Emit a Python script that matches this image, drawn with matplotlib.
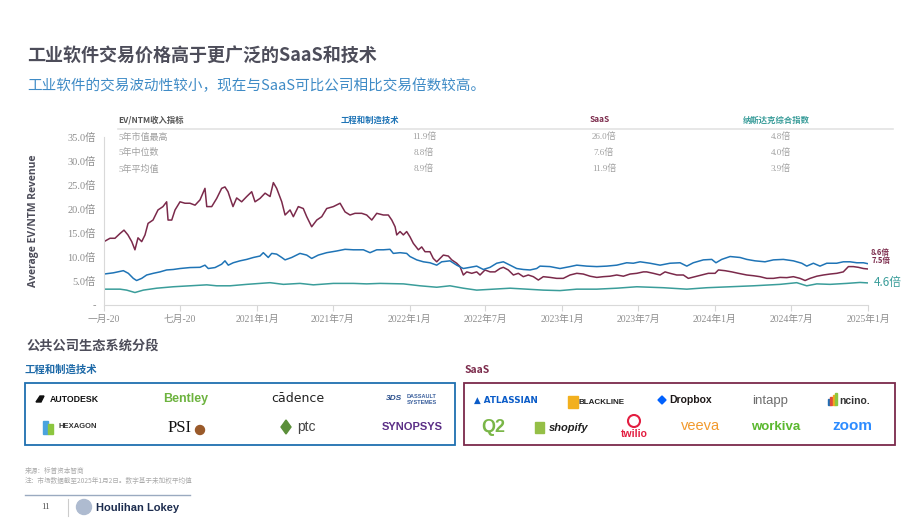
import numpy as np
import pandas as pd
import matplotlib
matplotlib.use('Agg')
import matplotlib.pyplot as plt
from matplotlib.patches import Rectangle, Ellipse, Polygon
from matplotlib.lines import Line2D

plt.rcParams['font.family'] = ['Noto Sans CJK SC', 'DejaVu Sans']
SERIF = ['Liberation Serif', 'Noto Sans CJK SC']

# months since Jan 2020 (x EV/NTM revenue)
saas_t = [0, 0.47, 0.86, 1.26, 1.57, 1.88, 2.18, 2.43, 2.67, 2.96,
          3.22, 3.46, 3.85, 4.24, 4.63, 4.92, 5.03, 5.32, 5.58, 5.97,
          6.36, 6.75, 7.15, 7.54, 7.93, 8.07, 8.46, 8.85, 9.24, 9.50,
          9.74, 10.13, 10.42, 10.81, 11.21, 11.60, 11.86, 12.25, 12.65, 13.04,
          13.30, 13.56, 13.96, 14.22, 14.61, 14.87, 15.26, 15.65, 15.92, 16.31,
          16.71, 17.10, 17.49, 18.01, 18.54, 18.93, 19.32, 19.71, 20.24, 20.63,
          21.03, 21.42, 21.94, 22.33, 22.60, 22.86, 22.99, 23.25, 23.51, 23.77,
          24.03, 24.29, 24.69, 24.95, 25.21, 25.60, 25.86, 26.13, 26.39, 26.65,
          27.04, 27.31, 27.70, 27.96, 28.22, 28.49, 28.88, 29.27, 29.53, 29.92,
          30.32, 30.71, 31.10, 31.36, 31.75, 32.15, 32.54, 32.93, 33.32, 33.72,
          34.11, 34.50, 35.03, 35.55, 36.07, 36.60, 37.13, 37.64, 38.17, 38.70,
          39.21, 39.74, 40.27, 40.79, 41.31, 41.84, 42.36, 42.62, 43.14, 43.67,
          44.06, 44.45, 44.98, 45.50, 45.89, 46.42, 46.94, 47.46, 47.99, 48.25,
          48.77, 49.30, 49.82, 50.48, 51.00, 51.52, 52.05, 52.57, 53.09, 53.62,
          54.14, 54.66, 55.06, 55.45, 55.98, 56.49, 57.02, 57.55, 58.06, 58.46,
          58.85, 59.24, 59.64, 60.0]
saas_v = [13.2, 13.9, 13.9, 14.9, 15.6, 14.6, 13.2, 11.5, 14.0, 13.2,
          14.6, 17.0, 17.7, 19.8, 20.5, 21.5, 17.7, 17.7, 19.8, 21.5,
          21.2, 21.2, 20.8, 21.9, 24.3, 20.5, 20.5, 22.2, 24.3, 24.6,
          23.6, 20.5, 22.3, 21.5, 22.6, 23.6, 21.5, 22.2, 23.3, 22.6,
          25.5, 24.3, 21.5, 18.75, 19.8, 18.4, 20.5, 20.1, 18.4, 16.3,
          17.7, 18.4, 20.1, 20.5, 21.2, 19.4, 18.75, 19.1, 19.1, 18.75,
          17.7, 19.1, 18.75, 18.75, 17.7, 16.3, 14.6, 15.3, 14.6, 15.3,
          14.2, 12.85, 11.5, 12.1, 11.1, 11.1, 9.7, 9.0, 9.7, 10.4,
          10.2, 9.4, 8.7, 8.0, 6.25, 6.9, 6.6, 6.9, 6.25, 7.3,
          6.9, 6.9, 7.6, 7.85, 7.3, 6.25, 6.6, 5.9, 6.25, 5.9,
          5.2, 5.9, 5.75, 5.55, 5.55, 6.25, 6.6, 6.45, 6.0, 5.75,
          5.9, 6.0, 6.25, 6.0, 6.45, 6.6, 6.9, 6.9, 6.6, 6.25,
          6.9, 6.6, 6.25, 6.25, 5.55, 5.9, 6.25, 6.6, 6.6, 7.3,
          7.15, 6.9, 6.6, 6.25, 6.1, 5.9, 5.55, 5.55, 5.75, 5.7,
          5.9, 5.55, 5.1, 5.55, 6.0, 6.25, 6.45, 6.6, 6.9, 8.0,
          8.0, 7.85, 7.6, 7.5]

eng_t = [0, 0.73, 1.52, 1.91, 2.30, 2.56, 2.96, 3.35, 3.87, 4.40,
         4.92, 5.44, 5.97, 6.75, 7.54, 7.93, 8.19, 8.72, 9.24, 9.50,
         9.76, 10.15, 10.68, 11.21, 11.73, 12.25, 12.51, 12.90, 13.17, 13.56,
         13.96, 14.22, 14.74, 15.39, 15.92, 16.31, 16.83, 17.49, 18.27, 18.93,
         19.58, 20.37, 20.89, 21.42, 21.94, 22.46, 22.72, 23.25, 23.77, 24.03,
         24.56, 25.08, 25.60, 26.13, 26.52, 27.17, 27.70, 28.22, 28.75, 29.27,
         29.79, 30.32, 30.84, 31.36, 31.89, 32.41, 32.93, 33.46, 33.98, 34.24,
         35.03, 35.81, 36.60, 37.13, 37.91, 38.70, 39.48, 40.27, 41.05, 41.57,
         42.10, 42.88, 43.67, 44.45, 45.24, 45.77, 46.28, 47.07, 47.73, 48.06,
         48.51, 49.17, 49.95, 50.48, 51.13, 51.91, 52.57, 53.35, 54.14, 54.80,
         55.19, 55.71, 56.23, 56.76, 57.54, 58.06, 58.59, 59.12, 59.64, 60.0]
eng_v = [6.45, 6.7, 7.15, 6.6, 5.55, 5.1, 5.55, 6.25, 6.6, 6.9,
         7.3, 7.4, 7.6, 7.8, 7.85, 8.3, 7.6, 7.8, 8.5, 9.2,
         8.3, 8.8, 9.2, 9.5, 9.9, 10.2, 10.9, 9.9, 10.75, 10.6,
         9.9, 9.4, 9.9, 10.75, 10.4, 9.7, 10.4, 10.9, 11.25, 11.6,
         11.5, 11.5, 10.9, 11.5, 11.5, 11.6, 10.75, 10.9, 10.75, 10.1,
         9.4, 9.0, 8.8, 8.3, 9.0, 9.2, 8.3, 7.6, 7.85, 8.1,
         7.4, 7.85, 8.7, 9.0, 8.3, 7.6, 7.4, 7.3, 7.6, 8.1,
         8.0, 7.6, 8.0, 8.3, 8.1, 8.0, 8.1, 8.3, 8.8, 8.7,
         9.0, 8.7, 8.3, 8.7, 8.8, 8.1, 8.8, 9.4, 9.5, 8.8,
         9.5, 10.1, 9.9, 9.5, 9.2, 9.0, 9.4, 9.5, 9.2, 8.7,
         8.1, 8.7, 8.1, 8.7, 8.7, 9.0, 9.0, 8.8, 8.8, 8.6]

nasdaq_t = [0, 1.26, 1.78, 2.43, 3.09, 4.14, 5.44, 6.75, 8.07, 8.85,
            9.90, 11.21, 13.04, 14.09, 15.39, 16.44, 18.01, 19.58, 20.63, 21.68,
            23.51, 24.82, 26.13, 27.17, 28.22, 29.27, 30.58, 31.89, 33.20, 34.50,
            35.81, 37.13, 38.70, 40.27, 41.84, 43.93, 45.77, 47.34, 49.17, 51.00,
            53.09, 54.40, 55.19, 55.98, 57.02, 58.33, 59.37, 60.0]
nasdaq_v = [3.3, 3.3, 3.1, 2.6, 3.1, 3.5, 3.8, 4.0, 4.2, 4.0,
            4.0, 4.3, 4.65, 4.3, 4.5, 4.2, 4.5, 4.5, 4.4, 4.5,
            4.4, 4.0, 3.7, 4.0, 3.5, 3.1, 3.3, 3.5, 3.3, 3.1,
            3.0, 3.3, 3.3, 3.5, 3.8, 3.6, 3.3, 3.6, 3.8, 4.0,
            4.3, 4.65, 4.0, 4.4, 4.3, 4.5, 4.7, 4.6]

end_labels = ['8.6倍', '7.5倍', '4.6倍']

table_cols = ['工程和制造技术', 'SaaS', '纳斯达克综合指数']
table_rows = ['5年市值最高', '5年中位数', '5年平均值']
table_vals = [['11.9倍', '26.0倍', '4.8倍'],
              ['8.8倍', '7.6倍', '4.0倍'],
              ['8.9倍', '11.9倍', '3.9倍']]

y_ticks = [0, 5, 10, 15, 20, 25, 30, 35]
y_labels = ['-', '5.0倍', '10.0倍', '15.0倍', '20.0倍', '25.0倍', '30.0倍', '35.0倍']
x_tick_dates = pd.date_range('2020-01-01', '2025-01-01', freq='6MS')
x_labels = ['一月-20', '七月-20', '2021年1月', '2021年7月', '2022年1月', '2022年7月',
            '2023年1月', '2023年7月', '2024年1月', '2024年7月', '2025年1月']

MAROON = '#7b2a4b'
BLUE = '#1f74b6'
TEAL = '#3a9d9a'
GREY = '#8e8e8e'

start = pd.Timestamp('2020-01-01')
end = pd.Timestamp('2025-01-01')


def to_dates(months):
    days = np.array(months) * (end - start).days / 60.0
    return start + pd.to_timedelta(days, unit='D')


W, H = 920, 518


def fx(x):
    return x / W


def fy(y):
    return 1 - y / H


fig = plt.figure(figsize=(9.2, 5.18), dpi=100)
fig.patch.set_facecolor('white')

# titles
fig.text(fx(27), fy(56), '工业软件交易价格高于更广泛的SaaS和技术', fontsize=13,
         fontweight='bold', color='#4d4d5a', va='center')
fig.text(fx(27), fy(86), '工业软件的交易波动性较小，现在与SaaS可比公司相比交易倍数较高。',
         fontsize=10.5, color='#3f8bc6', va='center')

# chart
ax = fig.add_axes([fx(104), fy(305), fx(868) - fx(104), (305 - 137) / H])
ax.plot(to_dates(saas_t), saas_v, color=MAROON, lw=1.1)
ax.plot(to_dates(eng_t), eng_v, color=BLUE, lw=1.1)
ax.plot(to_dates(nasdaq_t), nasdaq_v, color=TEAL, lw=1.1)

ax.set_xlim(start, end)
ax.set_ylim(0, 35)
ax.set_yticks(y_ticks)
ax.set_yticklabels(y_labels, fontsize=7.5, color=GREY, family=SERIF)
ax.set_xticks(x_tick_dates)
ax.set_xticklabels(x_labels, fontsize=7, color=GREY, family=SERIF)
ax.tick_params(axis='y', length=0, pad=6)
ax.tick_params(axis='x', length=4, color='#d6d6d6', pad=3)
for s in ['top', 'right']:
    ax.spines[s].set_visible(False)
for s in ['left', 'bottom']:
    ax.spines[s].set_color('#d9d9d9')
    ax.spines[s].set_linewidth(0.8)
ax.set_ylabel('Average EV/NTM Revenue', fontsize=7.5, fontweight='bold',
              color='#4d4d5a', family=['Open Sans', 'DejaVu Sans'], labelpad=20)

ax.text(end + pd.Timedelta(days=6), 11.0, end_labels[0], fontsize=5.5, fontweight='bold',
        color=MAROON, va='center', clip_on=False)
ax.text(end + pd.Timedelta(days=8), 9.3, end_labels[1], fontsize=5.5, fontweight='bold',
        color=MAROON, va='center', clip_on=False)
ax.text(end + pd.Timedelta(days=14), 4.75, end_labels[2], fontsize=8.5,
        color=TEAL, va='center', clip_on=False)

# stats table
fig.text(fx(118), fy(120), 'EV/NTM收入指标', fontsize=6, fontweight='bold', color='#555555',
         va='center')
head_x = [370, 600, 776]
val_x = [424, 604, 781]
head_colors = [BLUE, MAROON, TEAL]
for c in range(3):
    fig.text(fx(head_x[c]), fy(120), table_cols[c], fontsize=6, fontweight='bold',
             color=head_colors[c], ha='center', va='center')
fig.add_artist(Line2D([fx(118), fx(893)], [fy(129), fy(129)], color='#e3e3e3', lw=1.2))
row_y = [137, 153, 169]
for r in range(3):
    fig.text(fx(118), fy(row_y[r]), table_rows[r], fontsize=6.5, color='#a0a0a0',
             va='center', family=SERIF)
    for c in range(3):
        fig.text(fx(val_x[c]), fy(row_y[r]), table_vals[r][c], fontsize=6.5, color='#a0a0a0',
                 ha='center', va='center', family=SERIF)

# ecosystem section
fig.text(fx(27), fy(347), '公共公司生态系统分段', fontsize=9.5, fontweight='bold',
         color='#4d4d5a', va='center')
fig.text(fx(25), fy(370), '工程和制造技术', fontsize=7.5, fontweight='bold',
         color='#1e6aa8', va='center')
fig.text(fx(465), fy(370), 'SaaS', fontsize=7.5, fontweight='bold', color=MAROON, va='center')
fig.add_artist(Rectangle((fx(25), fy(445)), fx(455) - fx(25), (445 - 383) / H,
                         fill=False, edgecolor='#1f6fb0', lw=1.3, transform=fig.transFigure))
fig.add_artist(Rectangle((fx(464), fy(445)), fx(895) - fx(464), (445 - 383) / H,
                         fill=False, edgecolor=MAROON, lw=1.3, transform=fig.transFigure))


def logo(x, y, text, color, size=8, weight='bold', family=None, **kw):
    fam = family if family else ['Liberation Sans', 'DejaVu Sans']
    fig.text(fx(x), fy(y), text, fontsize=size, fontweight=weight, color=color,
             ha='center', va='center', family=fam, **kw)


def box(x0, y0, w, h, color):
    fig.add_artist(Rectangle((fx(x0), fy(y0 + h)), w / W, h / H, color=color,
                             transform=fig.transFigure))


# engineering logos
fig.add_artist(Polygon([[fx(36), fy(402)], [fx(40), fy(396)], [fx(44), fy(396)],
                        [fx(41), fy(402)]], closed=True, color='#111111',
                       transform=fig.transFigure))
logo(74, 399, 'AUTODESK', '#111111', size=6.3)
logo(186, 399, 'Bentley', '#6db33f', size=9)
logo(298, 399, 'cādence', '#222222', size=9, weight='normal', family=['DejaVu Sans'])
logo(394, 399, '3DS', '#2a4f8c', size=6, style='italic')
logo(422, 396, 'DASSAULT', '#3a5f9c', size=4)
logo(422, 402, 'SYSTEMES', '#3a5f9c', size=4)
box(43, 421, 5, 13, '#4aa3df')
box(48, 424, 5, 10, '#8cc63f')
logo(78, 427, 'HEXAGON', '#333333', size=5.5)
logo(180, 428, 'PSI', '#111111', size=12, weight='normal', family=['Liberation Serif'])
fig.add_artist(Ellipse((fx(200), fy(430)), 9 / W, 9 / H, color='#9a5a2a',
                       transform=fig.transFigure))
fig.add_artist(Polygon([[fx(281), fy(427)], [fx(286), fy(420)], [fx(291), fy(427)],
                        [fx(286), fy(434)]], closed=True, color='#5b8f3a',
                       transform=fig.transFigure))
logo(306, 427, 'ptc', '#444444', size=10, weight='normal')
logo(412, 427, 'SYNOPSYS', '#5b2e86', size=8)

# SaaS logos
logo(506, 400, '▲ ATLASSIAN', '#0b5cc8', size=6.3, family=['DejaVu Sans'])
box(568, 396, 10, 12, '#f2b01e')
logo(602, 402, 'BLACKLINE', '#222222', size=5.8)
fig.add_artist(Polygon([[fx(658), fy(400)], [fx(662), fy(396)], [fx(666), fy(400)],
                        [fx(662), fy(404)]], closed=True, color='#0061fe',
                       transform=fig.transFigure))
logo(691, 400, 'Dropbox', '#1e1919', size=7.5)
logo(770, 401, 'intapp', '#6e6e6e', size=9.5, weight='normal')
ncino_cols = ['#1f6fb5', '#e04b3c', '#f2a81d', '#8cc63f']
for i, c in enumerate(ncino_cols):
    box(828 + 2.5 * i, 405 - (6 + 2 * i), 2, 6 + 2 * i, c)
logo(855, 401, 'ncino.', '#333333', size=7.5)
logo(493, 427, 'Q2', '#7ab648', size=13)
box(535, 422, 9, 11, '#95bf47')
logo(569, 428, 'shopify', '#222222', size=8, style='italic')
fig.add_artist(Ellipse((fx(634), fy(421)), 12 / W, 12 / H, fill=False, edgecolor='#e31e41',
                       lw=1.5, transform=fig.transFigure))
logo(634, 434, 'twilio', '#e31e41', size=7.5)
logo(701, 426, 'veeva', '#f29a2e', size=10.5, weight='normal')
logo(776, 427, 'workiva', '#5ab82e', size=9.5)
logo(852, 426, 'zoom', '#2d8cff', size=11)

# footer
fig.text(fx(25), fy(471), '来源：标普资本智商', fontsize=4.8, color='#aaaaaa', va='center')
fig.text(fx(25), fy(481), '注：市场数据截至2025年1月2日。数字基于未加权平均值', fontsize=4.8,
         color='#aaaaaa', va='center')
fig.add_artist(Line2D([fx(25), fx(190)], [fy(495), fy(495)], color='#9aaac0', lw=1))
fig.text(fx(46), fy(507), '11', fontsize=6.5, color='#555555', ha='center', va='center',
         family=SERIF)
fig.add_artist(Line2D([fx(68), fx(68)], [fy(499), fy(516)], color='#cccccc', lw=0.8))
fig.add_artist(Ellipse((fx(84), fy(507)), 15 / W, 15 / H, color='#aebbd0',
                       transform=fig.transFigure))
fig.text(fx(96), fy(508), 'Houlihan Lokey', fontsize=8, fontweight='bold', color='#1d2d4f',
         va='center', family=['Liberation Sans', 'DejaVu Sans'])

fig.savefig('out.png', dpi=100)
